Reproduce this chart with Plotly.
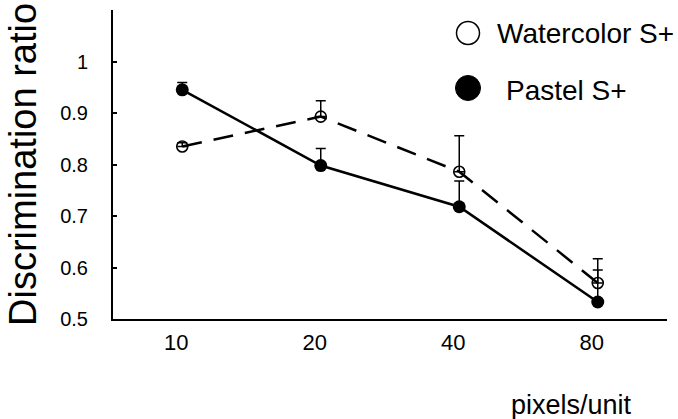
import plotly.graph_objects as go

categories = ["10", "20", "40", "80"]
watercolor = [0.835, 0.893, 0.786, 0.570]
watercolor_err = [0.007, 0.031, 0.070, 0.047]
pastel = [0.945, 0.798, 0.718, 0.533]
pastel_err = [0.014, 0.033, 0.050, 0.062]
y_ticks = [0.5, 0.6, 0.7, 0.8, 0.9, 1.0, 1.1]
y_ticktext = ["0.5", "0.6", "0.7", "0.8", "0.9", "1", ""]

FONT = "Liberation Sans, Arial, Helvetica, sans-serif"

fig = go.Figure()
fig.add_trace(go.Scatter(
    x=categories, y=watercolor, mode="lines+markers", name="Watercolor S+",
    line=dict(color="black", width=2.5, dash="20px,12px"),
    marker=dict(symbol="circle-open", size=11, color="black", line=dict(width=1.6, color="black")),
    error_y=dict(type="data", symmetric=False, array=watercolor_err,
                 arrayminus=[0] * 4, color="black", thickness=1.5, width=5),
))
fig.add_trace(go.Scatter(
    x=categories, y=pastel, mode="lines+markers", name="Pastel S+",
    line=dict(color="black", width=2.5),
    marker=dict(symbol="circle", size=13, color="black"),
    error_y=dict(type="data", symmetric=False, array=pastel_err,
                 arrayminus=[0] * 4, color="black", thickness=1.5, width=5),
))

L, R, T, B = 113, 11, 10, 100
W, H = 678, 419
pw, ph = W - L - R, H - T - B


def px(x):
    return (x - L) / pw


def py(y):
    return (H - B - y) / ph


fig.update_layout(
    width=W, height=H,
    margin=dict(l=L, r=R, t=T, b=B, pad=0),
    paper_bgcolor="white", plot_bgcolor="white",
    showlegend=False,
    font=dict(family=FONT, color="black"),
    xaxis=dict(
        type="category", range=[-0.5, 3.5],
        showline=True, linecolor="black", linewidth=2,
        showgrid=False, zeroline=False, ticks="",
        tickfont=dict(size=22, family=FONT), ticklabelshift=-6, ticklabelstandoff=3,
    ),
    yaxis=dict(
        range=[0.5, 1.1], tickvals=y_ticks, ticktext=y_ticktext,
        showline=True, linecolor="black", linewidth=2,
        showgrid=False, zeroline=False,
        ticks="inside", ticklen=4, tickwidth=1.5, tickcolor="black",
        tickfont=dict(size=20, family=FONT), ticklabelstandoff=19,
    ),
    annotations=[
        dict(text="Discrimination ratio", textangle=-90, xref="paper", yref="paper",
             x=px(23), y=py(165), xanchor="center", yanchor="middle", showarrow=False,
             font=dict(size=38, family=FONT)),
        dict(text="pixels/unit", xref="paper", yref="paper",
             x=px(509), y=py(405), xanchor="left", yanchor="middle", showarrow=False,
             font=dict(size=27, family=FONT)),
        dict(text="Watercolor S+", xref="paper", yref="paper",
             x=px(495), y=py(34), xanchor="left", yanchor="middle", showarrow=False,
             font=dict(size=28, family=FONT)),
        dict(text="Pastel S+", xref="paper", yref="paper",
             x=px(504), y=py(90), xanchor="left", yanchor="middle", showarrow=False,
             font=dict(size=28, family=FONT)),
    ],
    shapes=[
        dict(type="circle", xref="paper", yref="paper", xsizemode="pixel", ysizemode="pixel",
             xanchor=px(468), yanchor=py(33), x0=-11.5, x1=11.5, y0=-11.5, y1=11.5,
             line=dict(color="black", width=1.5), fillcolor="white"),
        dict(type="circle", xref="paper", yref="paper", xsizemode="pixel", ysizemode="pixel",
             xanchor=px(468), yanchor=py(88), x0=-12.5, x1=12.5, y0=-12.5, y1=12.5,
             line=dict(color="black", width=1), fillcolor="black"),
    ],
)

fig.write_html("out.html")
